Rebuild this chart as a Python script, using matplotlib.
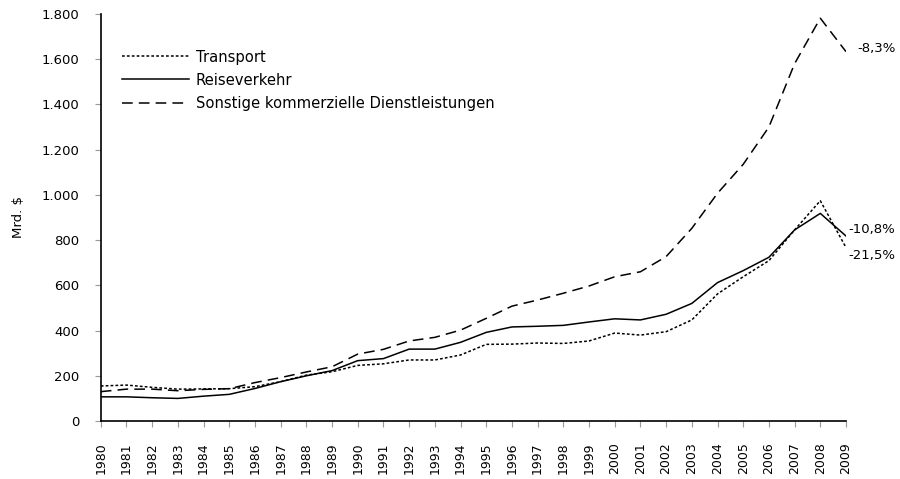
import matplotlib.pyplot as plt
from matplotlib.ticker import FuncFormatter

# ── Data ─────────────────────────────────────────────────────────────
years = list(range(1980, 2010))

transport = [155, 159, 149, 141, 142, 143, 152, 174, 203, 218,
             246, 253, 270, 270, 292, 339, 340, 345, 343, 354,
             389, 380, 395, 447, 562, 638, 709, 845, 974, 767]

reiseverkehr = [107, 107, 103, 100, 110, 118, 144, 174, 200, 223,
                267, 276, 318, 318, 348, 392, 416, 419, 423, 438,
                452, 447, 472, 520, 612, 665, 724, 845, 918, 818]

sonstige = [130, 141, 141, 134, 140, 143, 170, 192, 217, 240,
            296, 317, 354, 370, 402, 454, 508, 535, 565, 597,
            638, 660, 727, 852, 1007, 1135, 1300, 1580, 1781, 1633]

changes = ['-21,5%', '-10,8%', '-8,3%']

plt.rcParams['font.family'] = ['DejaVu Sans']

# ── Plot ─────────────────────────────────────────────────────────────
fig = plt.figure(figsize=(9, 4.79), dpi=100)
ax = fig.add_axes([0.112, 0.121, 0.828, 0.850])

ax.plot(years, transport, color='black', lw=1.1, linestyle=(0, (1.8, 1.4)), label='Transport')
ax.plot(years, reiseverkehr, color='black', lw=1.1, label='Reiseverkehr')
ax.plot(years, sonstige, color='black', lw=1.1, linestyle=(0, (7, 4)),
        label='Sonstige kommerzielle Dienstleistungen')

# ── Labels & Formatting ──────────────────────────────────────────────
ax.set_xlim(1980, 2009)
ax.set_ylim(0, 1800)
ax.set_xticks(years)
ax.set_xticklabels([str(y) for y in years], rotation=90, fontsize=9)
ax.set_yticks(range(0, 1801, 200))
ax.yaxis.set_major_formatter(FuncFormatter(lambda v, p: f'{int(v):,}'.replace(',', '.')))
ax.tick_params(direction='out', length=4.5, color='#999999', width=0.8)
ax.tick_params(axis='y', labelsize=9.5, pad=11)
ax.tick_params(axis='x', pad=11)
for s in ['top', 'right']:
    ax.spines[s].set_visible(False)
for s in ['left', 'bottom']:
    ax.spines[s].set_linewidth(1.2)

ax.set_ylabel('Mrd. $', fontsize=9.5, labelpad=12)

ax.legend(loc='upper left', bbox_to_anchor=(0.01, 0.945), frameon=False, fontsize=10.6,
          handlelength=4.6, handletextpad=0.45, labelspacing=0.55)

ax.annotate(changes[0], (2009, transport[-1]), xytext=(2, -6), textcoords='offset points',
            fontsize=9.5, va='center', annotation_clip=False)
ax.annotate(changes[1], (2009, reiseverkehr[-1]), xytext=(2, 5), textcoords='offset points',
            fontsize=9.5, va='center', annotation_clip=False)
ax.annotate(changes[2], (2009, sonstige[-1]), xytext=(8, 2), textcoords='offset points',
            fontsize=9.5, va='center', annotation_clip=False)

# ── Export ───────────────────────────────────────────────────────────
fig.savefig('out.png', dpi=100)
